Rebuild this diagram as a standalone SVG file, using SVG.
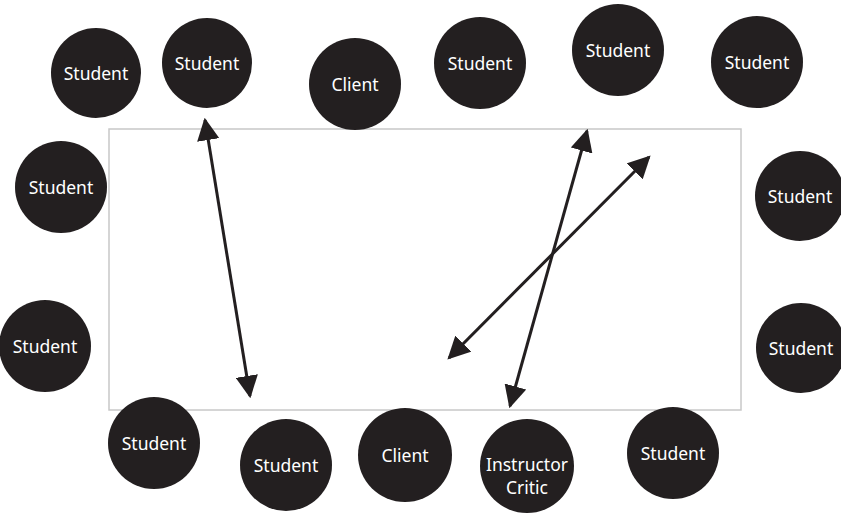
<svg xmlns="http://www.w3.org/2000/svg" width="841" height="514" viewBox="0 0 841 514">
<defs>
<style>
.n circle{fill:#231f20}
.n text{fill:#fff;font-family:"Noto Sans","Liberation Sans",sans-serif;font-size:17.5px;text-anchor:middle;dominant-baseline:central}
.c line{stroke:#231f20;stroke-width:3;marker-start:url(#ah);marker-end:url(#ah)}
</style>
<marker id="ah" viewBox="0 0 10 10" refX="9" refY="5" markerWidth="7.5" markerHeight="7.5" markerUnits="strokeWidth" orient="auto-start-reverse">
<path d="M0,0 L10,5 L0,10 Z" fill="#231f20"/>
</marker>
</defs>
<rect width="841" height="514" fill="#fff"/>
<rect x="109" y="129" width="632" height="281" fill="none" stroke="#c8c8c8" stroke-width="1.5"/>
<g class="c">
<line x1="205" y1="120" x2="250" y2="396"/>
<line x1="587" y1="131" x2="510" y2="406"/>
<line x1="649" y1="157" x2="449" y2="358"/>
</g>
<g id="s1" class="n"><circle cx="96" cy="73" r="45"/><text x="96" y="73">Student</text></g>
<g id="s2" class="n"><circle cx="207" cy="63" r="45"/><text x="207" y="63">Student</text></g>
<g id="c1" class="n"><circle cx="355" cy="84" r="46"/><text x="355" y="84">Client</text></g>
<g id="s3" class="n"><circle cx="480" cy="63" r="46"/><text x="480" y="63">Student</text></g>
<g id="s4" class="n"><circle cx="618" cy="50" r="46"/><text x="618" y="50">Student</text></g>
<g id="s5" class="n"><circle cx="757" cy="62" r="46"/><text x="757" y="62">Student</text></g>
<g id="s6" class="n"><circle cx="61" cy="187" r="46"/><text x="61" y="187">Student</text></g>
<g id="s7" class="n"><circle cx="800" cy="196" r="45"/><text x="800" y="196">Student</text></g>
<g id="s8" class="n"><circle cx="45" cy="346" r="46"/><text x="45" y="346">Student</text></g>
<g id="s9" class="n"><circle cx="801" cy="348" r="45"/><text x="801" y="348">Student</text></g>
<g id="s10" class="n"><circle cx="154" cy="443" r="46"/><text x="154" y="443">Student</text></g>
<g id="s11" class="n"><circle cx="286" cy="465" r="46"/><text x="286" y="465">Student</text></g>
<g id="c2" class="n"><circle cx="405" cy="455" r="47"/><text x="405" y="455">Client</text></g>
<g id="ic" class="n"><circle cx="527" cy="466" r="47"/><text x="527" y="464">Instructor</text><text x="527" y="487">Critic</text></g>
<g id="s12" class="n"><circle cx="673" cy="453" r="46"/><text x="673" y="453">Student</text></g>
</svg>
